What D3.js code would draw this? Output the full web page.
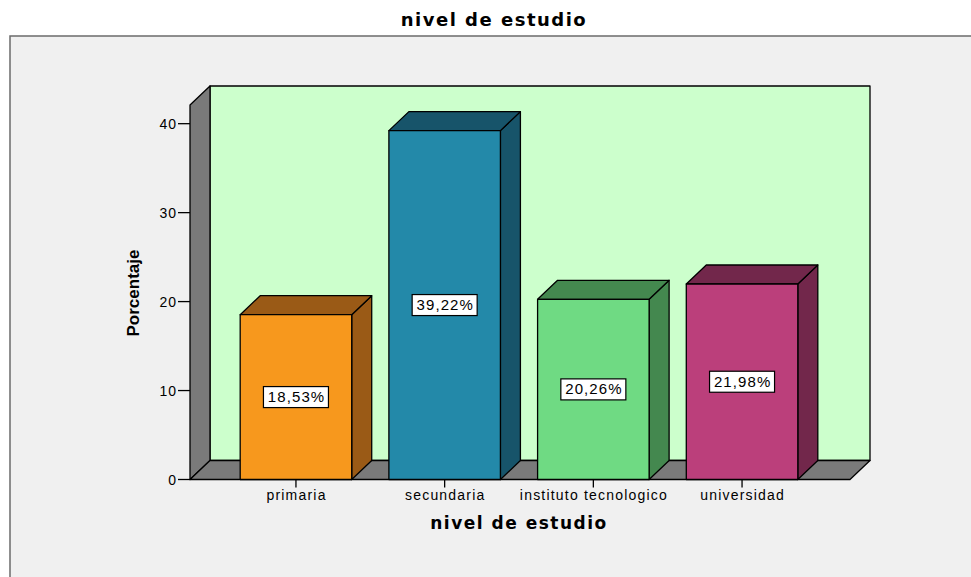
<!DOCTYPE html>
<html>
<head>
<meta charset="utf-8">
<script src="https://cdn.jsdelivr.net/npm/d3@7"></script>
<style>
  body { margin: 0; background: #fff; }
  svg { display: block; font-family: Arial, "Liberation Sans", sans-serif; }
</style>
</head>
<body>
<svg id="chart" width="971" height="577"></svg>
<script>
// data
var categories = ['primaria', 'secundaria', 'instituto tecnologico', 'universidad'];
var values = [18.53, 39.22, 20.26, 21.98];
var yTicks = [0, 10, 20, 30, 40];
var frontColors = ['#f7981d', '#2389a9', '#6fda83', '#bb3f7b'];
var sideColors = ['#9a5a16', '#17546a', '#44884f', '#72274b'];

var svg = d3.select('#chart');
var dx = 20, dy = -19;   // depth of the 3d box
var wide = '"DejaVu Sans", Verdana, sans-serif';

var y = d3.scaleLinear().domain([0, 42.1]).range([479.5, 105]);
var x = d3.scaleBand().domain(categories)
    .range([221.6, 816.4]).paddingInner(0.25).paddingOuter(0.125);

var left = 190, right = 850, y0 = y(0), yTop = y(42.1);

// outer frame
svg.append('rect').attr('x', 10).attr('y', 36).attr('width', 980).attr('height', 560)
    .attr('fill', '#f0f0f0').attr('stroke', '#6b6b6b').attr('stroke-width', 1.5);

// title
svg.append('text').attr('x', 494).attr('y', 26).attr('text-anchor', 'middle')
    .attr('font-family', wide).attr('font-weight', 'bold').attr('font-size', 18)
    .attr('letter-spacing', 1.5).text('nivel de estudio');

function poly(pts, fill) {
    svg.append('polygon').attr('points', pts.map(function(p) { return p.join(','); }).join(' '))
        .attr('fill', fill).attr('stroke', '#000').attr('stroke-width', 1.3)
        .attr('stroke-linejoin', 'round');
}

// back wall, side wall, floor
poly([[left + dx, yTop + dy], [right + dx, yTop + dy], [right + dx, y0 + dy], [left + dx, y0 + dy]], '#ccffcc');
poly([[left, yTop], [left + dx, yTop + dy], [left + dx, y0 + dy], [left, y0]], '#7a7a7a');
poly([[left, y0], [left + dx, y0 + dy], [right + dx, y0 + dy], [right, y0]], '#7a7a7a');

// y axis ticks
var yAxis = svg.append('g');
yTicks.forEach(function(t) {
    yAxis.append('line').attr('x1', left - 12).attr('x2', left)
        .attr('y1', y(t)).attr('y2', y(t)).attr('stroke', '#000').attr('stroke-width', 1.3);
    yAxis.append('text').attr('x', left - 13).attr('y', y(t) + 5)
        .attr('text-anchor', 'end').attr('font-size', 14).attr('letter-spacing', 1).text(t);
});

// bars
var fmt = d3.format('.2f');
categories.forEach(function(c, i) {
    var x0 = x(c), w = x.bandwidth(), top = y(values[i]);
    poly([[x0 + w, top], [x0 + w + dx, top + dy], [x0 + w + dx, y0 + dy], [x0 + w, y0]], sideColors[i]);
    poly([[x0, top], [x0 + dx, top + dy], [x0 + w + dx, top + dy], [x0 + w, top]], sideColors[i]);
    poly([[x0, top], [x0 + w, top], [x0 + w, y0], [x0, y0]], frontColors[i]);

    var cx = x0 + w / 2, cy = (top + y0) / 2;
    var lbl = fmt(values[i]).replace('.', ',') + '%';
    svg.append('rect').attr('x', cx - 32.5).attr('y', cy - 10.5).attr('width', 65).attr('height', 21)
        .attr('fill', '#fff').attr('stroke', '#000').attr('stroke-width', 1.2);
    svg.append('text').attr('x', cx + 0.6).attr('y', cy + 5).attr('text-anchor', 'middle')
        .attr('font-size', 15).attr('letter-spacing', 1.1).text(lbl);

    // category tick and label
    svg.append('line').attr('x1', cx).attr('x2', cx).attr('y1', y0).attr('y2', y0 + 8)
        .attr('stroke', '#000').attr('stroke-width', 1.3);
    svg.append('text').attr('x', cx + 0.6).attr('y', y0 + 20).attr('text-anchor', 'middle')
        .attr('font-size', 14).attr('letter-spacing', 1.2).text(c);
});

// axis titles
svg.append('text').attr('x', 519).attr('y', 529).attr('text-anchor', 'middle')
    .attr('font-family', wide).attr('font-weight', 'bold').attr('font-size', 17)
    .attr('letter-spacing', 1.5).text('nivel de estudio');
svg.append('text').attr('transform', 'translate(139,293) rotate(-90)')
    .attr('text-anchor', 'middle').attr('font-weight', 'bold').attr('font-size', 17)
    .text('Porcentaje');
</script>
</body>
</html>
